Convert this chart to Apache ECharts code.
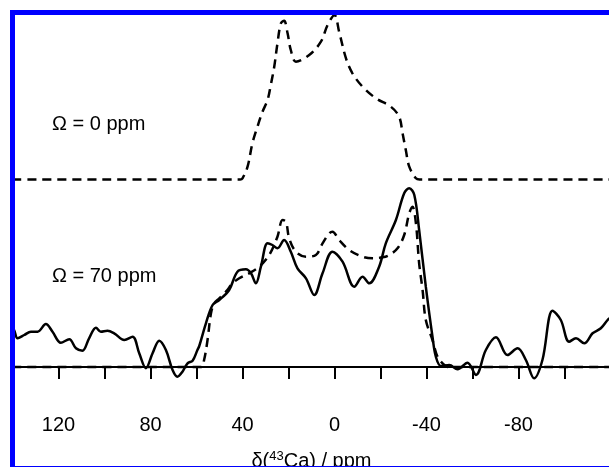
<!DOCTYPE html>
<html>
<head>
<meta charset="utf-8">
<script src="https://cdn.jsdelivr.net/npm/echarts@6/dist/echarts.min.js"></script>
<style>
html,body{margin:0;padding:0;background:#fff;}
#c{width:609px;height:467px;}
</style>
</head>
<body>
<div id="c"></div>
<script>
// Simulated spectrum, Omega = 0 ppm (offset trace) : [ppm, intensity]
const simOmega0 = [
  [140,187.5],[41,187.5],[40,188.7],[37.8,200.3],[35.7,223.7],[33.5,240.3],[31.3,255.3],
  [29.1,267],[27.7,282],[26.2,300.3],[24.8,323.7],[23.3,343.7],[21.9,346.3],[20.4,333.7],
  [19,317],[16.8,305.3],[11,312],[5.9,325.3],[3,342],[0,352],[-2,335.3],[-5,308.7],
  [-7.8,293.7],[-12.2,280.3],[-18,268.7],[-24.5,260.3],[-28.1,250.3],[-29.6,233.7],
  [-31,217],[-32.5,200.3],[-35.4,188.7],[-37,187.5],[-120,187.5]
];
// Simulated spectrum, Omega = 70 ppm
const simOmega70 = [
  [140,0],[58,0],[56.7,7],[55.2,27],[53.7,53.7],[52.3,63.7],[50.1,68.7],[47.2,75.3],
  [44.3,83.7],[41.4,88.7],[37.1,93.7],[32.7,100.3],[28.4,112],[24.8,130.3],[22.6,147],
  [21.1,145.3],[19.7,128.7],[16.8,115.3],[12.4,110.3],[8.1,112],[5.2,123.7],[2.3,133.7],
  [0.9,135.3],[-2,127],[-6.4,117],[-12.2,110.3],[-16.5,108.7],[-20.9,109.7],[-23.8,112],
  [-27.4,118.7],[-30.3,132],[-32.5,153.7],[-33.9,160.3],[-35.4,143.7],[-36.8,103.7],
  [-38.3,77],[-39.7,47],[-42.6,27],[-44.8,10.3],[-47.7,2],[-49.5,0],[-120,0]
];
// Experimental spectrum
const experimental = [
  [140,38],[139.3,37],[137.8,28.7],[134.9,32],[132,35.3],[129.1,35.3],[125.5,43],[122.6,35.3],
  [119,24.3],[115.3,27.7],[112.4,18.7],[109.6,16.3],[106.7,28.7],[103.7,39.3],[101.6,35.3],
  [98.7,36.3],[95.8,33.7],[91.4,27],[87.8,30.3],[84.9,13.7],[82,-1.3],[79.1,13.7],[76.2,26.3],
  [73.3,17],[70.4,-3],[68.3,-9.7],[66.1,-4.7],[63.9,3.7],[61.7,6.3],[59.6,17],[58.8,21],
  [55.9,43.7],[53,62],[50.1,67],[45.8,77],[42.2,95.3],[38.5,97.7],[36.3,93.7],[34.2,83.7],
  [32,100.3],[29.1,123.7],[27,122],[24.8,118.7],[21.9,127],[19,115.3],[16.1,98.7],[12.4,88.7],
  [8.8,72],[5.2,93.7],[0.9,115.3],[-3.5,105.3],[-8.6,80.3],[-12.2,90.3],[-15.1,83.7],
  [-19.4,100.3],[-22.3,123.7],[-26.7,147],[-30.3,173.7],[-32.5,178.7],[-34.7,172],[-36.8,137],
  [-39.7,80.3],[-42.6,30.3],[-44.1,10],[-46.3,1],[-49.9,2],[-53.5,-2.3],[-57.8,4.3],
  [-61.5,-8],[-65.8,17],[-70.2,29.7],[-75.2,12],[-79.6,18.7],[-83.2,7],[-86.8,-11.3],
  [-90.4,7],[-94.8,56.3],[-98.4,47],[-102,25.3],[-105,28.7],[-108.6,23.7],[-112.2,33.7],
  [-115.8,38.7],[-119,47.7],[-120,49]
];
const tickLabels = [120, 80, 40, 0, -40, -80];
const annotations = ['Ω = 0 ppm', 'Ω = 70 ppm'];

const chart = echarts.init(document.getElementById('c'), null, {renderer: 'canvas'});
const FONT = 'Liberation Sans, Arial, sans-serif';
chart.setOption({
  animation: false,
  backgroundColor: '#fff',
  grid: {left: 12.5, top: 12.5, width: 598, height: 381.5, containLabel: false, outerBoundsMode: 'none'},
  xAxis: {
    type: 'value', inverse: true, min: -120, max: 140, interval: 20,
    axisLine: {show: true, lineStyle: {color: '#000', width: 2}},
    axisTick: {show: true, length: 12, lineStyle: {color: '#000', width: 2}},
    splitLine: {show: false},
    axisLabel: {
      margin: 21, color: '#000', fontSize: 20, fontFamily: FONT,
      formatter: v => tickLabels.indexOf(v) >= 0 ? String(v) : ''
    },
    name: '{a|δ(}{sup|43}{a|Ca) / ppm}',
    nameLocation: 'middle', nameGap: 56,
    nameTextStyle: {
      color: '#000', fontFamily: FONT,
      rich: {
        a: {fontSize: 20, fontFamily: FONT, color: '#000'},
        sup: {fontSize: 13, fontFamily: FONT, color: '#000', padding: [0, 0, 9, 0]}
      }
    }
  },
  yAxis: {type: 'value', min: -27, max: 354.5, show: false},
  series: [
    {type: 'line', data: simOmega0, smooth: 0.35, showSymbol: false,
     lineStyle: {color: '#000', width: 2.5, type: [9, 6]}},
    {type: 'line', data: simOmega70, smooth: 0.35, showSymbol: false,
     lineStyle: {color: '#000', width: 2.5, type: [9, 6]}},
    {type: 'line', data: experimental, smooth: 0.35, showSymbol: false,
     lineStyle: {color: '#000', width: 2.5}}
  ],
  graphic: [
    {type: 'text', left: 52, top: 114, style: {text: annotations[0], font: '20px ' + FONT, fill: '#000'}},
    {type: 'text', left: 52, top: 266, style: {text: annotations[1], font: '20px ' + FONT, fill: '#000'}},
    {type: 'rect', z: 100, shape: {x: 12.5, y: 12.5, width: 700, height: 456},
     style: {fill: 'none', stroke: '#0000ff', lineWidth: 5}}
  ]
});
</script>
</body>
</html>
